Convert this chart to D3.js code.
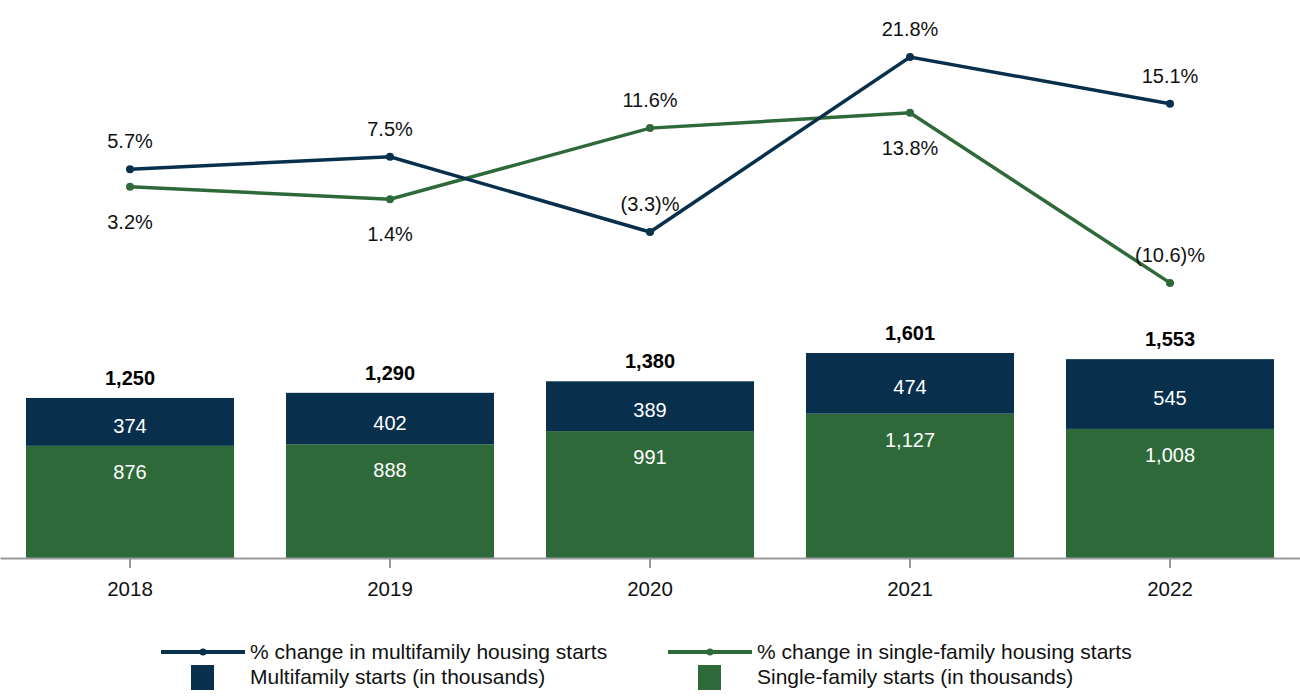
<!DOCTYPE html>
<html lang="en">
<head>
<meta charset="UTF-8">
<script src="https://d3js.org/d3.v7.min.js"></script>
<title>Housing starts</title>
<style>
  body { margin: 0; background: #fff; }
  text { font-family: "Liberation Sans", Arial, sans-serif; }
</style>
</head>
<body>
<svg id="chart" width="1300" height="700"></svg>
<script>
var years = ['2018', '2019', '2020', '2021', '2022'];
var singleFamily = [876, 888, 991, 1127, 1008];
var multiFamily = [374, 402, 389, 474, 545];
var totals = [1250, 1290, 1380, 1601, 1553];
var pctMulti = [5.7, 7.5, -3.3, 21.8, 15.1];
var pctSingle = [3.2, 1.4, 11.6, 13.8, -10.6];
var multiLabelSide = ['above', 'above', 'above', 'above', 'above'];
var singleLabelSide = ['below', 'below', 'above', 'below', 'above'];

var navy = '#08304d', green = '#2e6a39';
var svg = d3.select('#chart');

var x = d3.scaleBand().domain(years).range([0, 1300]).paddingInner(0.2).paddingOuter(0.1);
var yBar = d3.scaleLinear().domain([0, 1601]).range([558, 353]);
var yPct = d3.scaleLinear().domain([-3.3, 21.8]).range([232, 57]);

// bars
var g = svg.append('g');
years.forEach(function(yr, i) {
    var x0 = x(yr), w = x.bandwidth(), cx = x0 + w / 2;
    g.append('rect').attr('x', x0).attr('width', w)
        .attr('y', yBar(singleFamily[i])).attr('height', yBar(0) - yBar(singleFamily[i]))
        .attr('fill', green);
    g.append('rect').attr('x', x0).attr('width', w)
        .attr('y', yBar(totals[i])).attr('height', yBar(singleFamily[i]) - yBar(totals[i]))
        .attr('fill', navy);
    g.append('text').attr('x', cx).attr('y', yBar(totals[i]) - 13)
        .attr('text-anchor', 'middle').attr('font-size', 20).attr('font-weight', 'bold')
        .text(d3.format(',')(totals[i]));
    g.append('text').attr('x', cx).attr('y', (yBar(totals[i]) + yBar(singleFamily[i])) / 2 + 11)
        .attr('text-anchor', 'middle').attr('font-size', 20).attr('fill', '#fff')
        .text(d3.format(',')(multiFamily[i]));
    g.append('text').attr('x', cx).attr('y', yBar(singleFamily[i]) + 33)
        .attr('text-anchor', 'middle').attr('font-size', 20).attr('fill', '#fff')
        .text(d3.format(',')(singleFamily[i]));
});

// x axis
var axis = svg.append('g').attr('transform', 'translate(0,558)')
    .call(d3.axisBottom(x).tickSize(10).tickSizeOuter(0).tickPadding(13));
axis.select('.domain').attr('stroke', '#999').attr('stroke-width', 2);
axis.selectAll('.tick line').attr('stroke', '#999').attr('stroke-width', 2);
axis.selectAll('.tick text').attr('font-size', 20.5).attr('fill', '#111')
    .attr('font-family', '"Liberation Sans", Arial, sans-serif');

function fmtPct(v) {
    return v < 0 ? '(' + Math.abs(v).toFixed(1) + ')%' : v.toFixed(1) + '%';
}

function drawLine(vals, color, sides) {
    var line = d3.line()
        .x(function(d, i) { return x(years[i]) + x.bandwidth() / 2; })
        .y(function(d) { return yPct(d); });
    svg.append('path').datum(vals).attr('d', line)
        .attr('fill', 'none').attr('stroke', color).attr('stroke-width', 3.5);
    vals.forEach(function(v, i) {
        var cx = x(years[i]) + x.bandwidth() / 2, cy = yPct(v);
        svg.append('circle').attr('cx', cx).attr('cy', cy).attr('r', 4).attr('fill', color);
        svg.append('text').attr('x', cx)
            .attr('y', sides[i] === 'above' ? cy - 21 : cy + 42)
            .attr('text-anchor', 'middle').attr('font-size', 20).attr('fill', '#111')
            .text(fmtPct(v));
    });
}
drawLine(pctSingle, green, singleLabelSide);
drawLine(pctMulti, navy, multiLabelSide);

// legend
var legendItems = [
    { type: 'line', color: navy, label: '% change in multifamily housing starts', x: 161, y: 652 },
    { type: 'line', color: green, label: '% change in single-family housing starts', x: 668, y: 652 },
    { type: 'rect', color: navy, label: 'Multifamily starts (in thousands)', x: 161, y: 677 },
    { type: 'rect', color: green, label: 'Single-family starts (in thousands)', x: 668, y: 677 }
];
var lg = svg.append('g');
legendItems.forEach(function(d) {
    if (d.type === 'line') {
        lg.append('line').attr('x1', d.x).attr('x2', d.x + 84).attr('y1', d.y).attr('y2', d.y)
            .attr('stroke', d.color).attr('stroke-width', 4);
        lg.append('circle').attr('cx', d.x + 42).attr('cy', d.y).attr('r', 3.5).attr('fill', d.color);
    } else {
        lg.append('rect').attr('x', d.x + 30).attr('y', d.y - 12).attr('width', 23).attr('height', 25)
            .attr('fill', d.color);
    }
    lg.append('text').attr('x', d.x + 89).attr('y', d.y + 7)
        .attr('font-size', 21).attr('fill', '#111').text(d.label);
});
</script>
</body>
</html>
